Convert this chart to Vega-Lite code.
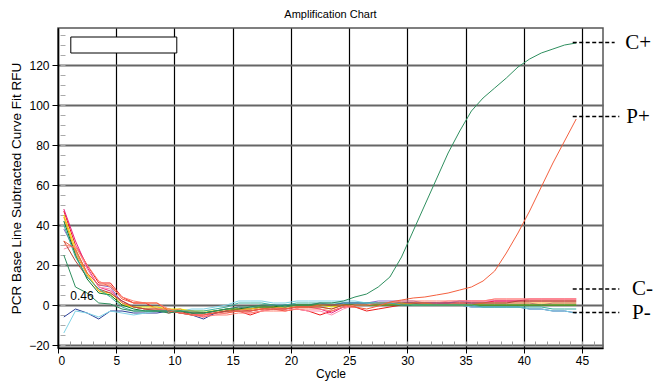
{
  "$schema": "https://vega.github.io/schema/vega-lite/v6.json",
  "autosize": {"type": "none"},
  "width": 545,
  "height": 320,
  "padding": {"left": 58, "top": 28, "right": 51, "bottom": 37},
  "background": "white",
  "config": {
    "font": "Liberation Sans",
    "view": {"stroke": "#555555", "strokeWidth": 1.5},
    "axis": {"labelFont": "Liberation Sans", "titleFont": "Liberation Sans", "labelColor": "black", "titleColor": "black", "titleFontWeight": "normal"}
  },
  "title": {"text": "Amplification Chart", "fontSize": 11, "font": "Liberation Sans", "fontWeight": "normal", "anchor": "middle", "offset": 8, "color": "black"},
  "resolve": {"axis": {"x": "independent", "y": "independent"}},
  "datasets": {
    "box": [{"x1": 1.1, "x2": 10.2, "y1": 126, "y2": 134}],
    "thr": [{"x": 1.05, "y": 4.3, "label": "0.46"}],
    "notes": [
      {"name": "C+", "x1": 44.2, "x2": 47.8, "tx": 48.7, "v": 131.2},
      {"name": "P+", "x1": 44.2, "x2": 48.2, "tx": 48.8, "v": 94.2},
      {"name": "C-", "x1": 44.2, "x2": 48.2, "tx": 49.3, "v": 8},
      {"name": "P-", "x1": 44.2, "x2": 48.2, "tx": 49.3, "v": -3.8}
    ],
    "curves": [
{"s":"red","c":0.5,"v":47},{"s":"red","c":1.5,"v":30},{"s":"red","c":2.5,"v":20},{"s":"red","c":3.5,"v":11},{"s":"red","c":4.5,"v":11},{"s":"red","c":5.5,"v":4},{"s":"red","c":6.5,"v":1},{"s":"red","c":7.5,"v":1},{"s":"red","c":8.5,"v":-2},{"s":"red","c":9.5,"v":-4},{"s":"red","c":10.5,"v":-3},{"s":"red","c":11.5,"v":-5},{"s":"red","c":12.5,"v":-5},{"s":"red","c":13.5,"v":-4},{"s":"red","c":14.5,"v":-3},{"s":"red","c":15.5,"v":-3},{"s":"red","c":16.5,"v":-5},{"s":"red","c":17.5,"v":-3},{"s":"red","c":18.5,"v":-2},{"s":"red","c":19.5,"v":-3},{"s":"red","c":20.5,"v":-2},{"s":"red","c":21.5,"v":-3},{"s":"red","c":22.5,"v":-5},{"s":"red","c":23.5,"v":-3},{"s":"red","c":24.5,"v":-1},{"s":"red","c":25.5,"v":-1},{"s":"red","c":26.5,"v":-3},{"s":"red","c":27.5,"v":-2},{"s":"red","c":28.5,"v":-1},{"s":"red","c":29.5,"v":0},{"s":"red","c":30.5,"v":1},{"s":"red","c":31.5,"v":1},{"s":"red","c":32.5,"v":1},{"s":"red","c":33.5,"v":1},{"s":"red","c":34.5,"v":1},{"s":"red","c":35.5,"v":1},{"s":"red","c":36.5,"v":1},{"s":"red","c":37.5,"v":2},{"s":"red","c":38.5,"v":2},{"s":"red","c":39.5,"v":2},{"s":"red","c":40.5,"v":2},{"s":"red","c":41.5,"v":2},{"s":"red","c":42.5,"v":2},{"s":"red","c":43.5,"v":2},{"s":"red","c":44.5,"v":2},
{"s":"magenta","c":0.5,"v":48},{"s":"magenta","c":1.5,"v":32},{"s":"magenta","c":2.5,"v":19},{"s":"magenta","c":3.5,"v":9},{"s":"magenta","c":4.5,"v":7},{"s":"magenta","c":5.5,"v":2},{"s":"magenta","c":6.5,"v":-1},{"s":"magenta","c":7.5,"v":-2},{"s":"magenta","c":8.5,"v":-2},{"s":"magenta","c":9.5,"v":-3},{"s":"magenta","c":10.5,"v":-2},{"s":"magenta","c":11.5,"v":-4},{"s":"magenta","c":12.5,"v":-6},{"s":"magenta","c":13.5,"v":-4},{"s":"magenta","c":14.5,"v":-3},{"s":"magenta","c":15.5,"v":-2},{"s":"magenta","c":16.5,"v":-3},{"s":"magenta","c":17.5,"v":-2},{"s":"magenta","c":18.5,"v":-1},{"s":"magenta","c":19.5,"v":-2},{"s":"magenta","c":20.5,"v":-1},{"s":"magenta","c":21.5,"v":-1},{"s":"magenta","c":22.5,"v":-2},{"s":"magenta","c":23.5,"v":-4},{"s":"magenta","c":24.5,"v":-1},{"s":"magenta","c":25.5,"v":0},{"s":"magenta","c":26.5,"v":0},{"s":"magenta","c":27.5,"v":0},{"s":"magenta","c":28.5,"v":1},{"s":"magenta","c":29.5,"v":1},{"s":"magenta","c":30.5,"v":1},{"s":"magenta","c":31.5,"v":1},{"s":"magenta","c":32.5,"v":1},{"s":"magenta","c":33.5,"v":1},{"s":"magenta","c":34.5,"v":2},{"s":"magenta","c":35.5,"v":2},{"s":"magenta","c":36.5,"v":2},{"s":"magenta","c":37.5,"v":2},{"s":"magenta","c":38.5,"v":2},{"s":"magenta","c":39.5,"v":2},{"s":"magenta","c":40.5,"v":3},{"s":"magenta","c":41.5,"v":3},{"s":"magenta","c":42.5,"v":3},{"s":"magenta","c":43.5,"v":3},{"s":"magenta","c":44.5,"v":3},
{"s":"pink","c":0.5,"v":28},{"s":"pink","c":1.5,"v":30},{"s":"pink","c":2.5,"v":18},{"s":"pink","c":3.5,"v":9},{"s":"pink","c":4.5,"v":8},{"s":"pink","c":5.5,"v":1},{"s":"pink","c":6.5,"v":-1},{"s":"pink","c":7.5,"v":-2},{"s":"pink","c":8.5,"v":-1},{"s":"pink","c":9.5,"v":-3},{"s":"pink","c":10.5,"v":-4},{"s":"pink","c":11.5,"v":-5},{"s":"pink","c":12.5,"v":-5},{"s":"pink","c":13.5,"v":-5},{"s":"pink","c":14.5,"v":-4},{"s":"pink","c":15.5,"v":-3},{"s":"pink","c":16.5,"v":-4},{"s":"pink","c":17.5,"v":-3},{"s":"pink","c":18.5,"v":-2},{"s":"pink","c":19.5,"v":-2},{"s":"pink","c":20.5,"v":-2},{"s":"pink","c":21.5,"v":-3},{"s":"pink","c":22.5,"v":-3},{"s":"pink","c":23.5,"v":-5},{"s":"pink","c":24.5,"v":-2},{"s":"pink","c":25.5,"v":0},{"s":"pink","c":26.5,"v":0},{"s":"pink","c":27.5,"v":0},{"s":"pink","c":28.5,"v":1},{"s":"pink","c":29.5,"v":1},{"s":"pink","c":30.5,"v":1},{"s":"pink","c":31.5,"v":1},{"s":"pink","c":32.5,"v":1},{"s":"pink","c":33.5,"v":2},{"s":"pink","c":34.5,"v":2},{"s":"pink","c":35.5,"v":2},{"s":"pink","c":36.5,"v":2},{"s":"pink","c":37.5,"v":3},{"s":"pink","c":38.5,"v":3},{"s":"pink","c":39.5,"v":3},{"s":"pink","c":40.5,"v":3},{"s":"pink","c":41.5,"v":3},{"s":"pink","c":42.5,"v":3},{"s":"pink","c":43.5,"v":3},{"s":"pink","c":44.5,"v":3},
{"s":"purple","c":0.5,"v":38},{"s":"purple","c":1.5,"v":27},{"s":"purple","c":2.5,"v":16},{"s":"purple","c":3.5,"v":10},{"s":"purple","c":4.5,"v":9},{"s":"purple","c":5.5,"v":1},{"s":"purple","c":6.5,"v":-1},{"s":"purple","c":7.5,"v":-2},{"s":"purple","c":8.5,"v":-2},{"s":"purple","c":9.5,"v":-2},{"s":"purple","c":10.5,"v":-3},{"s":"purple","c":11.5,"v":-3},{"s":"purple","c":12.5,"v":-4},{"s":"purple","c":13.5,"v":-3},{"s":"purple","c":14.5,"v":-2},{"s":"purple","c":15.5,"v":-1},{"s":"purple","c":16.5,"v":-2},{"s":"purple","c":17.5,"v":-1},{"s":"purple","c":18.5,"v":0},{"s":"purple","c":19.5,"v":0},{"s":"purple","c":20.5,"v":0},{"s":"purple","c":21.5,"v":0},{"s":"purple","c":22.5,"v":1},{"s":"purple","c":23.5,"v":0},{"s":"purple","c":24.5,"v":1},{"s":"purple","c":25.5,"v":1},{"s":"purple","c":26.5,"v":1},{"s":"purple","c":27.5,"v":2},{"s":"purple","c":28.5,"v":2},{"s":"purple","c":29.5,"v":2},{"s":"purple","c":30.5,"v":2},{"s":"purple","c":31.5,"v":1},{"s":"purple","c":32.5,"v":1},{"s":"purple","c":33.5,"v":1},{"s":"purple","c":34.5,"v":2},{"s":"purple","c":35.5,"v":1},{"s":"purple","c":36.5,"v":1},{"s":"purple","c":37.5,"v":1},{"s":"purple","c":38.5,"v":1},{"s":"purple","c":39.5,"v":1},{"s":"purple","c":40.5,"v":1},{"s":"purple","c":41.5,"v":0},{"s":"purple","c":42.5,"v":1},{"s":"purple","c":43.5,"v":1},{"s":"purple","c":44.5,"v":1},
{"s":"blue","c":0.5,"v":-6},{"s":"blue","c":1.5,"v":-2},{"s":"blue","c":2.5,"v":-4},{"s":"blue","c":3.5,"v":-7},{"s":"blue","c":4.5,"v":-3},{"s":"blue","c":5.5,"v":-3},{"s":"blue","c":6.5,"v":-4},{"s":"blue","c":7.5,"v":-4},{"s":"blue","c":8.5,"v":-4},{"s":"blue","c":9.5,"v":-3},{"s":"blue","c":10.5,"v":-4},{"s":"blue","c":11.5,"v":-5},{"s":"blue","c":12.5,"v":-7},{"s":"blue","c":13.5,"v":-4},{"s":"blue","c":14.5,"v":-3},{"s":"blue","c":15.5,"v":-2},{"s":"blue","c":16.5,"v":-2},{"s":"blue","c":17.5,"v":-1},{"s":"blue","c":18.5,"v":-1},{"s":"blue","c":19.5,"v":-1},{"s":"blue","c":20.5,"v":0},{"s":"blue","c":21.5,"v":0},{"s":"blue","c":22.5,"v":0},{"s":"blue","c":23.5,"v":0},{"s":"blue","c":24.5,"v":1},{"s":"blue","c":25.5,"v":1},{"s":"blue","c":26.5,"v":1},{"s":"blue","c":27.5,"v":1},{"s":"blue","c":28.5,"v":1},{"s":"blue","c":29.5,"v":1},{"s":"blue","c":30.5,"v":1},{"s":"blue","c":31.5,"v":0},{"s":"blue","c":32.5,"v":0},{"s":"blue","c":33.5,"v":0},{"s":"blue","c":34.5,"v":0},{"s":"blue","c":35.5,"v":-1},{"s":"blue","c":36.5,"v":-1},{"s":"blue","c":37.5,"v":-1},{"s":"blue","c":38.5,"v":-1},{"s":"blue","c":39.5,"v":-1},{"s":"blue","c":40.5,"v":-2},{"s":"blue","c":41.5,"v":-2},{"s":"blue","c":42.5,"v":-3},{"s":"blue","c":43.5,"v":-3},{"s":"blue","c":44.5,"v":-4},
{"s":"cyan","c":0.5,"v":-14},{"s":"cyan","c":1.5,"v":-3},{"s":"cyan","c":2.5,"v":-4},{"s":"cyan","c":3.5,"v":-6},{"s":"cyan","c":4.5,"v":-3},{"s":"cyan","c":5.5,"v":-4},{"s":"cyan","c":6.5,"v":-5},{"s":"cyan","c":7.5,"v":-4},{"s":"cyan","c":8.5,"v":-3},{"s":"cyan","c":9.5,"v":-3},{"s":"cyan","c":10.5,"v":-3},{"s":"cyan","c":11.5,"v":-2},{"s":"cyan","c":12.5,"v":-2},{"s":"cyan","c":13.5,"v":-1},{"s":"cyan","c":14.5,"v":0},{"s":"cyan","c":15.5,"v":2},{"s":"cyan","c":16.5,"v":2},{"s":"cyan","c":17.5,"v":2},{"s":"cyan","c":18.5,"v":1},{"s":"cyan","c":19.5,"v":1},{"s":"cyan","c":20.5,"v":2},{"s":"cyan","c":21.5,"v":2},{"s":"cyan","c":22.5,"v":2},{"s":"cyan","c":23.5,"v":2},{"s":"cyan","c":24.5,"v":2},{"s":"cyan","c":25.5,"v":2},{"s":"cyan","c":26.5,"v":1},{"s":"cyan","c":27.5,"v":1},{"s":"cyan","c":28.5,"v":1},{"s":"cyan","c":29.5,"v":1},{"s":"cyan","c":30.5,"v":0},{"s":"cyan","c":31.5,"v":0},{"s":"cyan","c":32.5,"v":0},{"s":"cyan","c":33.5,"v":0},{"s":"cyan","c":34.5,"v":0},{"s":"cyan","c":35.5,"v":-1},{"s":"cyan","c":36.5,"v":-1},{"s":"cyan","c":37.5,"v":-1},{"s":"cyan","c":38.5,"v":-1},{"s":"cyan","c":39.5,"v":-1},{"s":"cyan","c":40.5,"v":-2},{"s":"cyan","c":41.5,"v":-2},{"s":"cyan","c":42.5,"v":-3},{"s":"cyan","c":43.5,"v":-3},{"s":"cyan","c":44.5,"v":-4},
{"s":"yellow","c":0.5,"v":45},{"s":"yellow","c":1.5,"v":28},{"s":"yellow","c":2.5,"v":16},{"s":"yellow","c":3.5,"v":7},{"s":"yellow","c":4.5,"v":5},{"s":"yellow","c":5.5,"v":0},{"s":"yellow","c":6.5,"v":-1},{"s":"yellow","c":7.5,"v":-1},{"s":"yellow","c":8.5,"v":-1},{"s":"yellow","c":9.5,"v":-2},{"s":"yellow","c":10.5,"v":-2},{"s":"yellow","c":11.5,"v":-3},{"s":"yellow","c":12.5,"v":-3},{"s":"yellow","c":13.5,"v":-3},{"s":"yellow","c":14.5,"v":-2},{"s":"yellow","c":15.5,"v":-2},{"s":"yellow","c":16.5,"v":-2},{"s":"yellow","c":17.5,"v":-1},{"s":"yellow","c":18.5,"v":-1},{"s":"yellow","c":19.5,"v":-1},{"s":"yellow","c":20.5,"v":0},{"s":"yellow","c":21.5,"v":0},{"s":"yellow","c":22.5,"v":0},{"s":"yellow","c":23.5,"v":-1},{"s":"yellow","c":24.5,"v":0},{"s":"yellow","c":25.5,"v":0},{"s":"yellow","c":26.5,"v":0},{"s":"yellow","c":27.5,"v":0},{"s":"yellow","c":28.5,"v":0},{"s":"yellow","c":29.5,"v":1},{"s":"yellow","c":30.5,"v":0},{"s":"yellow","c":31.5,"v":0},{"s":"yellow","c":32.5,"v":0},{"s":"yellow","c":33.5,"v":0},{"s":"yellow","c":34.5,"v":0},{"s":"yellow","c":35.5,"v":0},{"s":"yellow","c":36.5,"v":0},{"s":"yellow","c":37.5,"v":0},{"s":"yellow","c":38.5,"v":0},{"s":"yellow","c":39.5,"v":0},{"s":"yellow","c":40.5,"v":0},{"s":"yellow","c":41.5,"v":0},{"s":"yellow","c":42.5,"v":0},{"s":"yellow","c":43.5,"v":0},{"s":"yellow","c":44.5,"v":0},
{"s":"orange","c":0.5,"v":44},{"s":"orange","c":1.5,"v":26},{"s":"orange","c":2.5,"v":15},{"s":"orange","c":3.5,"v":7},{"s":"orange","c":4.5,"v":6},{"s":"orange","c":5.5,"v":1},{"s":"orange","c":6.5,"v":-1},{"s":"orange","c":7.5,"v":-2},{"s":"orange","c":8.5,"v":-2},{"s":"orange","c":9.5,"v":-2},{"s":"orange","c":10.5,"v":-3},{"s":"orange","c":11.5,"v":-3},{"s":"orange","c":12.5,"v":-4},{"s":"orange","c":13.5,"v":-3},{"s":"orange","c":14.5,"v":-3},{"s":"orange","c":15.5,"v":-2},{"s":"orange","c":16.5,"v":-2},{"s":"orange","c":17.5,"v":-2},{"s":"orange","c":18.5,"v":-1},{"s":"orange","c":19.5,"v":-1},{"s":"orange","c":20.5,"v":-1},{"s":"orange","c":21.5,"v":-1},{"s":"orange","c":22.5,"v":-1},{"s":"orange","c":23.5,"v":-2},{"s":"orange","c":24.5,"v":0},{"s":"orange","c":25.5,"v":0},{"s":"orange","c":26.5,"v":0},{"s":"orange","c":27.5,"v":0},{"s":"orange","c":28.5,"v":0},{"s":"orange","c":29.5,"v":0},{"s":"orange","c":30.5,"v":1},{"s":"orange","c":31.5,"v":1},{"s":"orange","c":32.5,"v":0},{"s":"orange","c":33.5,"v":0},{"s":"orange","c":34.5,"v":0},{"s":"orange","c":35.5,"v":0},{"s":"orange","c":36.5,"v":1},{"s":"orange","c":37.5,"v":1},{"s":"orange","c":38.5,"v":1},{"s":"orange","c":39.5,"v":1},{"s":"orange","c":40.5,"v":1},{"s":"orange","c":41.5,"v":1},{"s":"orange","c":42.5,"v":1},{"s":"orange","c":43.5,"v":1},{"s":"orange","c":44.5,"v":1},
{"s":"brown","c":0.5,"v":32},{"s":"brown","c":1.5,"v":22},{"s":"brown","c":2.5,"v":14},{"s":"brown","c":3.5,"v":8},{"s":"brown","c":4.5,"v":6},{"s":"brown","c":5.5,"v":2},{"s":"brown","c":6.5,"v":-1},{"s":"brown","c":7.5,"v":-2},{"s":"brown","c":8.5,"v":-3},{"s":"brown","c":9.5,"v":-3},{"s":"brown","c":10.5,"v":-4},{"s":"brown","c":11.5,"v":-4},{"s":"brown","c":12.5,"v":-4},{"s":"brown","c":13.5,"v":-4},{"s":"brown","c":14.5,"v":-3},{"s":"brown","c":15.5,"v":-3},{"s":"brown","c":16.5,"v":-3},{"s":"brown","c":17.5,"v":-2},{"s":"brown","c":18.5,"v":-2},{"s":"brown","c":19.5,"v":-2},{"s":"brown","c":20.5,"v":-1},{"s":"brown","c":21.5,"v":-1},{"s":"brown","c":22.5,"v":-1},{"s":"brown","c":23.5,"v":-2},{"s":"brown","c":24.5,"v":0},{"s":"brown","c":25.5,"v":0},{"s":"brown","c":26.5,"v":0},{"s":"brown","c":27.5,"v":1},{"s":"brown","c":28.5,"v":1},{"s":"brown","c":29.5,"v":1},{"s":"brown","c":30.5,"v":1},{"s":"brown","c":31.5,"v":1},{"s":"brown","c":32.5,"v":1},{"s":"brown","c":33.5,"v":1},{"s":"brown","c":34.5,"v":1},{"s":"brown","c":35.5,"v":1},{"s":"brown","c":36.5,"v":1},{"s":"brown","c":37.5,"v":1},{"s":"brown","c":38.5,"v":1},{"s":"brown","c":39.5,"v":2},{"s":"brown","c":40.5,"v":2},{"s":"brown","c":41.5,"v":2},{"s":"brown","c":42.5,"v":2},{"s":"brown","c":43.5,"v":2},{"s":"brown","c":44.5,"v":2},
{"s":"darkgreen","c":0.5,"v":42},{"s":"darkgreen","c":1.5,"v":25},{"s":"darkgreen","c":2.5,"v":13},{"s":"darkgreen","c":3.5,"v":6},{"s":"darkgreen","c":4.5,"v":5},{"s":"darkgreen","c":5.5,"v":0},{"s":"darkgreen","c":6.5,"v":-2},{"s":"darkgreen","c":7.5,"v":-3},{"s":"darkgreen","c":8.5,"v":-3},{"s":"darkgreen","c":9.5,"v":-3},{"s":"darkgreen","c":10.5,"v":-3},{"s":"darkgreen","c":11.5,"v":-4},{"s":"darkgreen","c":12.5,"v":-4},{"s":"darkgreen","c":13.5,"v":-3},{"s":"darkgreen","c":14.5,"v":-2},{"s":"darkgreen","c":15.5,"v":-2},{"s":"darkgreen","c":16.5,"v":-1},{"s":"darkgreen","c":17.5,"v":-1},{"s":"darkgreen","c":18.5,"v":-1},{"s":"darkgreen","c":19.5,"v":0},{"s":"darkgreen","c":20.5,"v":0},{"s":"darkgreen","c":21.5,"v":0},{"s":"darkgreen","c":22.5,"v":0},{"s":"darkgreen","c":23.5,"v":0},{"s":"darkgreen","c":24.5,"v":0},{"s":"darkgreen","c":25.5,"v":0},{"s":"darkgreen","c":26.5,"v":0},{"s":"darkgreen","c":27.5,"v":0},{"s":"darkgreen","c":28.5,"v":0},{"s":"darkgreen","c":29.5,"v":0},{"s":"darkgreen","c":30.5,"v":0},{"s":"darkgreen","c":31.5,"v":0},{"s":"darkgreen","c":32.5,"v":0},{"s":"darkgreen","c":33.5,"v":0},{"s":"darkgreen","c":34.5,"v":0},{"s":"darkgreen","c":35.5,"v":0},{"s":"darkgreen","c":36.5,"v":0},{"s":"darkgreen","c":37.5,"v":0},{"s":"darkgreen","c":38.5,"v":0},{"s":"darkgreen","c":39.5,"v":0},{"s":"darkgreen","c":40.5,"v":0},{"s":"darkgreen","c":41.5,"v":0},{"s":"darkgreen","c":42.5,"v":0},{"s":"darkgreen","c":43.5,"v":0},{"s":"darkgreen","c":44.5,"v":0},
{"s":"salmon","c":0.5,"v":30},{"s":"salmon","c":1.5,"v":29},{"s":"salmon","c":2.5,"v":20},{"s":"salmon","c":3.5,"v":12},{"s":"salmon","c":4.5,"v":9},{"s":"salmon","c":5.5,"v":4},{"s":"salmon","c":6.5,"v":2},{"s":"salmon","c":7.5,"v":1},{"s":"salmon","c":8.5,"v":1},{"s":"salmon","c":9.5,"v":-2},{"s":"salmon","c":10.5,"v":-4},{"s":"salmon","c":11.5,"v":-5},{"s":"salmon","c":12.5,"v":-6},{"s":"salmon","c":13.5,"v":-5},{"s":"salmon","c":14.5,"v":-5},{"s":"salmon","c":15.5,"v":-4},{"s":"salmon","c":16.5,"v":-4},{"s":"salmon","c":17.5,"v":-3},{"s":"salmon","c":18.5,"v":-3},{"s":"salmon","c":19.5,"v":-3},{"s":"salmon","c":20.5,"v":-2},{"s":"salmon","c":21.5,"v":-2},{"s":"salmon","c":22.5,"v":-2},{"s":"salmon","c":23.5,"v":-3},{"s":"salmon","c":24.5,"v":-1},{"s":"salmon","c":25.5,"v":0},{"s":"salmon","c":26.5,"v":0},{"s":"salmon","c":27.5,"v":1},{"s":"salmon","c":28.5,"v":1},{"s":"salmon","c":29.5,"v":2},{"s":"salmon","c":30.5,"v":2},{"s":"salmon","c":31.5,"v":2},{"s":"salmon","c":32.5,"v":2},{"s":"salmon","c":33.5,"v":2},{"s":"salmon","c":34.5,"v":2},{"s":"salmon","c":35.5,"v":2},{"s":"salmon","c":36.5,"v":2},{"s":"salmon","c":37.5,"v":3},{"s":"salmon","c":38.5,"v":3},{"s":"salmon","c":39.5,"v":3},{"s":"salmon","c":40.5,"v":3},{"s":"salmon","c":41.5,"v":3},{"s":"salmon","c":42.5,"v":3},{"s":"salmon","c":43.5,"v":3},{"s":"salmon","c":44.5,"v":3},
{"s":"teal","c":0.5,"v":40},{"s":"teal","c":1.5,"v":24},{"s":"teal","c":2.5,"v":14},{"s":"teal","c":3.5,"v":8},{"s":"teal","c":4.5,"v":4},{"s":"teal","c":5.5,"v":-1},{"s":"teal","c":6.5,"v":-3},{"s":"teal","c":7.5,"v":-3},{"s":"teal","c":8.5,"v":-3},{"s":"teal","c":9.5,"v":-3},{"s":"teal","c":10.5,"v":-3},{"s":"teal","c":11.5,"v":-3},{"s":"teal","c":12.5,"v":-3},{"s":"teal","c":13.5,"v":-2},{"s":"teal","c":14.5,"v":-1},{"s":"teal","c":15.5,"v":1},{"s":"teal","c":16.5,"v":1},{"s":"teal","c":17.5,"v":1},{"s":"teal","c":18.5,"v":0},{"s":"teal","c":19.5,"v":0},{"s":"teal","c":20.5,"v":1},{"s":"teal","c":21.5,"v":1},{"s":"teal","c":22.5,"v":1},{"s":"teal","c":23.5,"v":1},{"s":"teal","c":24.5,"v":1},{"s":"teal","c":25.5,"v":1},{"s":"teal","c":26.5,"v":1},{"s":"teal","c":27.5,"v":1},{"s":"teal","c":28.5,"v":1},{"s":"teal","c":29.5,"v":0},{"s":"teal","c":30.5,"v":0},{"s":"teal","c":31.5,"v":0},{"s":"teal","c":32.5,"v":0},{"s":"teal","c":33.5,"v":0},{"s":"teal","c":34.5,"v":0},{"s":"teal","c":35.5,"v":0},{"s":"teal","c":36.5,"v":-1},{"s":"teal","c":37.5,"v":-1},{"s":"teal","c":38.5,"v":-1},{"s":"teal","c":39.5,"v":-1},{"s":"teal","c":40.5,"v":-1},{"s":"teal","c":41.5,"v":-1},{"s":"teal","c":42.5,"v":-2},{"s":"teal","c":43.5,"v":-2},{"s":"teal","c":44.5,"v":-2},
{"s":"PP","c":0.5,"v":32},{"s":"PP","c":1.5,"v":28},{"s":"PP","c":2.5,"v":16},{"s":"PP","c":3.5,"v":10},{"s":"PP","c":4.5,"v":10},{"s":"PP","c":5.5,"v":3},{"s":"PP","c":6.5,"v":1},{"s":"PP","c":7.5,"v":1},{"s":"PP","c":8.5,"v":1},{"s":"PP","c":9.5,"v":-3},{"s":"PP","c":10.5,"v":-4},{"s":"PP","c":11.5,"v":-5},{"s":"PP","c":12.5,"v":-5},{"s":"PP","c":13.5,"v":-4},{"s":"PP","c":14.5,"v":-4},{"s":"PP","c":15.5,"v":-3},{"s":"PP","c":16.5,"v":-3},{"s":"PP","c":17.5,"v":-2},{"s":"PP","c":18.5,"v":-2},{"s":"PP","c":19.5,"v":-2},{"s":"PP","c":20.5,"v":-1},{"s":"PP","c":21.5,"v":-1},{"s":"PP","c":22.5,"v":0},{"s":"PP","c":23.5,"v":0},{"s":"PP","c":24.5,"v":0},{"s":"PP","c":25.5,"v":-1},{"s":"PP","c":26.5,"v":-2},{"s":"PP","c":27.5,"v":-0.5},{"s":"PP","c":28.5,"v":1.5},{"s":"PP","c":29.5,"v":2.5},{"s":"PP","c":30.5,"v":3.5},{"s":"PP","c":31.5,"v":4},{"s":"PP","c":32.5,"v":5},{"s":"PP","c":33.5,"v":6},{"s":"PP","c":34.5,"v":7.5},{"s":"PP","c":35.5,"v":9},{"s":"PP","c":36.5,"v":12},{"s":"PP","c":37.5,"v":17},{"s":"PP","c":38.5,"v":26},{"s":"PP","c":39.5,"v":36},{"s":"PP","c":40.5,"v":47},{"s":"PP","c":41.5,"v":59},{"s":"PP","c":42.5,"v":71},{"s":"PP","c":43.5,"v":82},{"s":"PP","c":44.5,"v":93},
{"s":"CP","c":0.5,"v":25},{"s":"CP","c":1.5,"v":9},{"s":"CP","c":2.5,"v":6},{"s":"CP","c":3.5,"v":1},{"s":"CP","c":4.5,"v":0.5},{"s":"CP","c":5.5,"v":-2},{"s":"CP","c":6.5,"v":-3},{"s":"CP","c":7.5,"v":-3},{"s":"CP","c":8.5,"v":-3},{"s":"CP","c":9.5,"v":-4},{"s":"CP","c":10.5,"v":-3},{"s":"CP","c":11.5,"v":-4},{"s":"CP","c":12.5,"v":-4},{"s":"CP","c":13.5,"v":-3},{"s":"CP","c":14.5,"v":-2},{"s":"CP","c":15.5,"v":-1},{"s":"CP","c":16.5,"v":-1},{"s":"CP","c":17.5,"v":0},{"s":"CP","c":18.5,"v":0},{"s":"CP","c":19.5,"v":-1},{"s":"CP","c":20.5,"v":0},{"s":"CP","c":21.5,"v":0},{"s":"CP","c":22.5,"v":1},{"s":"CP","c":23.5,"v":1},{"s":"CP","c":24.5,"v":2},{"s":"CP","c":25.5,"v":4},{"s":"CP","c":26.5,"v":5.5},{"s":"CP","c":27.5,"v":9},{"s":"CP","c":28.5,"v":14},{"s":"CP","c":29.5,"v":24},{"s":"CP","c":30.5,"v":37},{"s":"CP","c":31.5,"v":50},{"s":"CP","c":32.5,"v":63},{"s":"CP","c":33.5,"v":76},{"s":"CP","c":34.5,"v":87},{"s":"CP","c":35.5,"v":97},{"s":"CP","c":36.5,"v":103.5},{"s":"CP","c":37.5,"v":108.5},{"s":"CP","c":38.5,"v":113.5},{"s":"CP","c":39.5,"v":119},{"s":"CP","c":40.5,"v":123},{"s":"CP","c":41.5,"v":126},{"s":"CP","c":42.5,"v":128},{"s":"CP","c":43.5,"v":130},{"s":"CP","c":44.5,"v":131}
    ]
  },
  "layer": [
    {
      "data": {"name": "curves"},
      "mark": {"type": "line", "strokeWidth": 1},
      "encoding": {
        "x": {"field": "c", "type": "quantitative", "scale": {"domain": [0, 46.8], "nice": false, "zero": false},
              "axis": {"orient": "bottom", "values": [0, 5, 10, 15, 20, 25, 30, 35, 40, 45], "grid": true, "gridColor": "black", "gridWidth": 1.2, "gridOpacity": 1, "domainColor": "black", "domainWidth": 1.5, "tickColor": "black", "tickSize": 5, "labelFontSize": 12, "labelPadding": 2, "title": "Cycle", "titleFontSize": 12, "titlePadding": 2}},
        "y": {"field": "v", "type": "quantitative", "scale": {"domain": [-21.5, 138.5], "nice": false, "zero": false},
              "axis": {"orient": "left", "values": [-20, 0, 20, 40, 60, 80, 100, 120], "grid": true, "gridColor": "#666666", "gridWidth": 2, "gridOpacity": 1, "domainColor": "black", "domainWidth": 1.5, "tickColor": "black", "tickSize": 6, "labelFontSize": 12, "labelPadding": 3, "title": "PCR Base Line Subtracted Curve Fit RFU", "titleFontSize": 13.5, "titlePadding": 5}},
        "color": {"field": "s", "type": "nominal", "legend": null,
                  "scale": {"domain": ["red", "magenta", "pink", "purple", "blue", "cyan", "yellow", "orange", "brown", "darkgreen", "salmon", "teal", "PP", "CP"],
                            "range": ["#ee1c1c", "#e8207e", "#ff8fb0", "#8a6ac8", "#2b3f9a", "#7fd3e6", "#e6e600", "#ff9a1a", "#b04a3a", "#0c7a2a", "#ff8070", "#3ab0a0", "#f4603f", "#2f8f5f"]}},
        "detail": {"field": "s"},
        "order": {"field": "c", "type": "quantitative"}
      }
    },
    {
      "data": {"name": "box"},
      "mark": {"type": "rect", "fill": "white", "stroke": "black", "strokeWidth": 1},
      "encoding": {
        "x": {"field": "x1", "type": "quantitative", "scale": {"domain": [0, 46.8], "nice": false, "zero": false},
              "axis": {"orient": "bottom", "values": [0,1,2,3,4,5,6,7,8,9,10,11,12,13,14,15,16,17,18,19,20,21,22,23,24,25,26,27,28,29,30,31,32,33,34,35,36,37,38,39,40,41,42,43,44,45,46], "tickSize": -4, "tickColor": "#999999", "domain": false, "labels": false, "grid": false, "title": null, "offset": -3}},
        "x2": {"field": "x2"},
        "y": {"field": "y1", "type": "quantitative", "scale": {"domain": [-21.5, 138.5], "nice": false, "zero": false},
              "axis": {"orient": "left", "values": [-20,-15,-10,-5,0,5,10,15,20,25,30,35,40,45,50,55,60,65,70,75,80,85,90,95,100,105,110,115,120,125,130,135], "tickSize": -5, "tickColor": "#aaaaaa", "domain": false, "labels": false, "grid": false, "title": null, "offset": -2}},
        "y2": {"field": "y2"}
      }
    },
    {
      "mark": {"type": "rule", "color": "#12a012", "strokeWidth": 2},
      "encoding": {
        "y": {"datum": 0.46, "type": "quantitative", "scale": {"domain": [-21.5, 138.5], "nice": false, "zero": false}, "axis": null}
      }
    },
    {
      "data": {"name": "thr"},
      "mark": {"type": "text", "align": "left", "baseline": "middle", "fontSize": 12, "font": "Liberation Sans", "color": "black"},
      "encoding": {
        "x": {"field": "x", "type": "quantitative", "scale": {"domain": [0, 46.8], "nice": false, "zero": false}, "axis": null},
        "y": {"field": "y", "type": "quantitative", "scale": {"domain": [-21.5, 138.5], "nice": false, "zero": false}, "axis": null},
        "text": {"field": "label"}
      }
    },
    {
      "data": {"name": "notes"},
      "mark": {"type": "rule", "color": "black", "strokeWidth": 1.5, "strokeDash": [4, 2.5]},
      "encoding": {
        "x": {"field": "x1", "type": "quantitative", "scale": {"domain": [0, 46.8], "nice": false, "zero": false}, "axis": null},
        "x2": {"field": "x2"},
        "y": {"field": "v", "type": "quantitative", "scale": {"domain": [-21.5, 138.5], "nice": false, "zero": false}, "axis": null}
      }
    },
    {
      "data": {"name": "notes"},
      "mark": {"type": "text", "align": "left", "baseline": "middle", "fontSize": 21, "font": "Liberation Serif", "color": "black"},
      "encoding": {
        "x": {"field": "tx", "type": "quantitative", "scale": {"domain": [0, 46.8], "nice": false, "zero": false}, "axis": null},
        "y": {"field": "v", "type": "quantitative", "scale": {"domain": [-21.5, 138.5], "nice": false, "zero": false}, "axis": null},
        "text": {"field": "name"}
      }
    }
  ]
}
